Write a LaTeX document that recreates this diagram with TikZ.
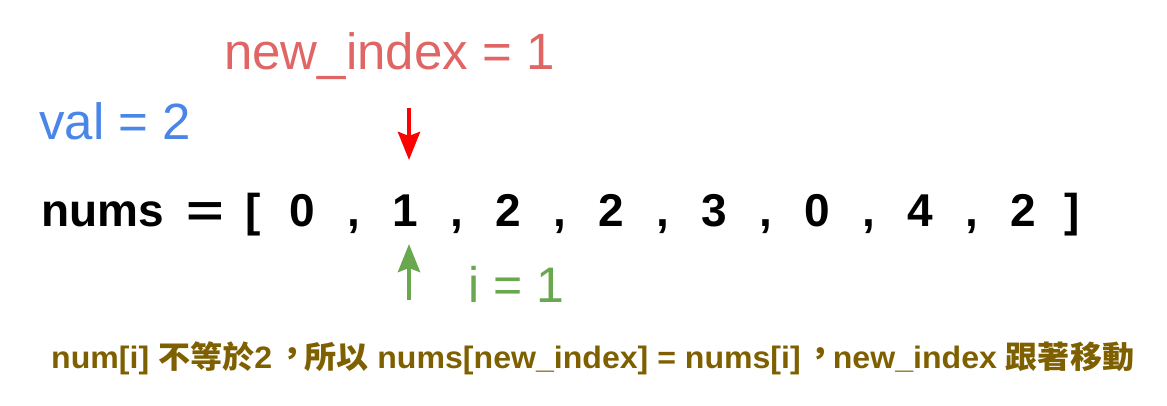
\documentclass[tikz,border=0pt]{standalone}
\usepackage{fontspec}
\setmainfont{Liberation Sans}
\newfontfamily\cjk{Noto Sans CJK TC}
\newcommand\zhcomma{{\cjk\makebox[31pt][l]{\hspace{4pt}\raisebox{4pt}{，}}}}
\usetikzlibrary{arrows.meta}
\definecolor{idxred}{HTML}{E06666}
\definecolor{valblue}{HTML}{4A86E8}
\definecolor{igreen}{HTML}{6AA84F}
\definecolor{notebrown}{HTML}{7F6000}
\tikzset{
  elem/.style={anchor=base,inner sep=0pt,font=\fontsize{46}{50}\selectfont\bfseries},
  lbl/.style={anchor=base west,inner sep=0pt,font=\fontsize{51}{56}\selectfont},
  ptr/.style={line width=4.5pt,-{Stealth[length=28pt,width=22pt,inset=4pt]}}
}
\begin{document}
\begin{tikzpicture}[x=1pt,y=-1pt]
\useasboundingbox (0,0) rectangle (1167,406);
\node[elem,anchor=base west] (nums) at (41,226) {nums};
\node[elem] (eq) at (205,226) {\scalebox{1.4}[1]{=}};
\node[elem] (lb) at (253,226) {[};
\foreach \v [count=\k from 0] in {0,1,2,2,3,0,4,2}{
  \node[elem] (e\k) at (302+103*\k,226) {\v};
}
\foreach \k in {0,...,6}{
  \node[elem] (c\k) at (353.5+103*\k,226) {,};
}
\node[elem] (rb) at (1072,226) {]};
\node[lbl,text=idxred] (newidx) at (224,70) {new\_index = 1};
\node[lbl,text=valblue] (val) at (39,140) {val = 2};
\node[lbl,text=igreen,font=\fontsize{50}{55}\selectfont] (iv) at (468,302) {i = 1};
\coordinate (redtop) at (409,108);
\coordinate (redtip) at (409,160);
\coordinate (greentail) at (409,300);
\coordinate (greentip) at (409,244);
\draw[ptr,red] (redtop) -- (redtip);
\draw[ptr,igreen] (greentail) -- (greentip);
\node[anchor=base west,inner sep=0pt,text=notebrown,font=\fontsize{31}{34}\selectfont\bfseries] (note) at (51,368)
  {\scalebox{1.035}[1]{num[i] {\cjk 不等於}2\zhcomma{\cjk 所以} nums[new\_index] = nums[i]\zhcomma new\_index {\cjk 跟著移動}}};
\end{tikzpicture}
\end{document}
